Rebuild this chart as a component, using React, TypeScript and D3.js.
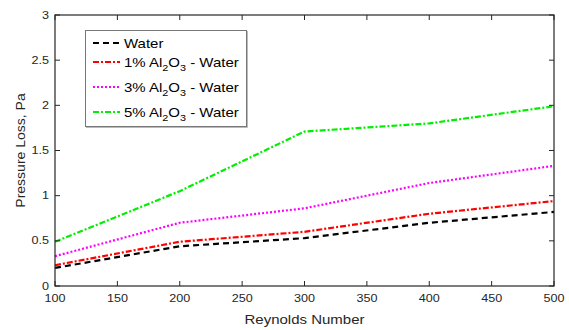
import React from "react";
import * as d3 from "d3";

const reynolds = [100, 200, 300, 400, 500];
const water = [0.2, 0.44, 0.53, 0.7, 0.82];
const al1 = [0.23, 0.49, 0.6, 0.8, 0.94];
const al3 = [0.33, 0.7, 0.86, 1.14, 1.33];
const al5 = [0.49, 1.05, 1.71, 1.8, 1.99];
const xTicks = [100, 150, 200, 250, 300, 350, 400, 450, 500];
const yTicks = [0, 0.5, 1, 1.5, 2, 2.5, 3];

const series = [
  { pct: "", name: "Water", values: water, color: "#000000", dash: "6,4" },
  { pct: "1%", name: "1% Al2O3 - Water", values: al1, color: "#ff0000", dash: "6,2,2,2" },
  { pct: "3%", name: "3% Al2O3 - Water", values: al3, color: "#ff00ff", dash: "2,2" },
  { pct: "5%", name: "5% Al2O3 - Water", values: al5, color: "#00ee00", dash: "6,2,2,2" },
];

export default function App() {
  const W = 569, H = 330;
  const m = { left: 55, right: 554, top: 15, bottom: 286 };
  const x = d3.scaleLinear().domain([100, 500]).range([m.left, m.right]);
  const y = d3.scaleLinear().domain([0, 3]).range([m.bottom, m.top]);
  const line = d3.line<number>().x((_, i) => x(reynolds[i])).y((d) => y(d));
  const font = "'Liberation Sans', Arial, sans-serif";
  const tl = 5;
  const sx = 1.2;
  const legendY = [43, 62, 87, 112];

  return (
    <svg width={W} height={H} style={{ position: "absolute", left: 0, top: 0, fontFamily: font }}>
      <rect x={0} y={0} width={W} height={H} fill="#fff" />
      {series.map((s, k) => (
        <path key={k} d={line(s.values) || ""} fill="none" stroke={s.color} strokeWidth={2.2} strokeDasharray={s.dash} />
      ))}
      <rect x={m.left} y={m.top} width={m.right - m.left} height={m.bottom - m.top} fill="none" stroke="#262626" strokeWidth={1.2} />
      {xTicks.map((t) => (
        <g key={"x" + t}>
          <line x1={x(t)} x2={x(t)} y1={m.bottom} y2={m.bottom - tl} stroke="#262626" />
          <line x1={x(t)} x2={x(t)} y1={m.top} y2={m.top + tl} stroke="#262626" />
          <text transform={`translate(${x(t)},302) scale(${sx},1)`} textAnchor="middle" fontSize={10.5} fill="#262626">{t}</text>
        </g>
      ))}
      {yTicks.map((t) => (
        <g key={"y" + t}>
          <line x1={m.left} x2={m.left + tl} y1={y(t)} y2={y(t)} stroke="#262626" />
          <line x1={m.right} x2={m.right - tl} y1={y(t)} y2={y(t)} stroke="#262626" />
          <text transform={`translate(49,${y(t) + 3.5}) scale(${sx},1)`} textAnchor="end" fontSize={10.5} fill="#262626">{t}</text>
        </g>
      ))}
      <text transform={`translate(${(m.left + m.right) / 2},324) scale(${sx},1)`} textAnchor="middle" fontSize={12.5} fill="#262626">Reynolds Number</text>
      <text transform={`translate(25,${(m.top + m.bottom) / 2}) rotate(-90) scale(1.12,1.08)`} textAnchor="middle" fontSize={12.5} fill="#262626">Pressure Loss, Pa</text>
      <rect x={85.5} y={30.5} width={161} height={96} fill="#fff" stroke="#777" strokeWidth={1} />
      <line x1={247.5} x2={247.5} y1={31} y2={127.5} stroke="#bbb" />
      <line x1={86} x2={247.5} y1={127.5} y2={127.5} stroke="#bbb" />
      {series.map((s, k) => (
        <g key={"l" + k}>
          <line x1={93} x2={120} y1={legendY[k]} y2={legendY[k]} stroke={s.color} strokeWidth={2.2} strokeDasharray={s.dash} />
          {s.pct === "" ? (
            <text transform={`translate(124,${legendY[k] + 4.5}) scale(${sx},1)`} fontSize={12.5} fill="#000">Water</text>
          ) : (
            <text transform={`translate(124,${legendY[k] + 4.5}) scale(${sx},1)`} fontSize={12.5} fill="#000">
              {s.pct} Al
              <tspan dy={4} fontSize={9}>2</tspan>
              <tspan dy={-4}>O</tspan>
              <tspan dy={4} fontSize={9}>3</tspan>
              <tspan dy={-4}> - Water</tspan>
            </text>
          )}
        </g>
      ))}
    </svg>
  );
}
